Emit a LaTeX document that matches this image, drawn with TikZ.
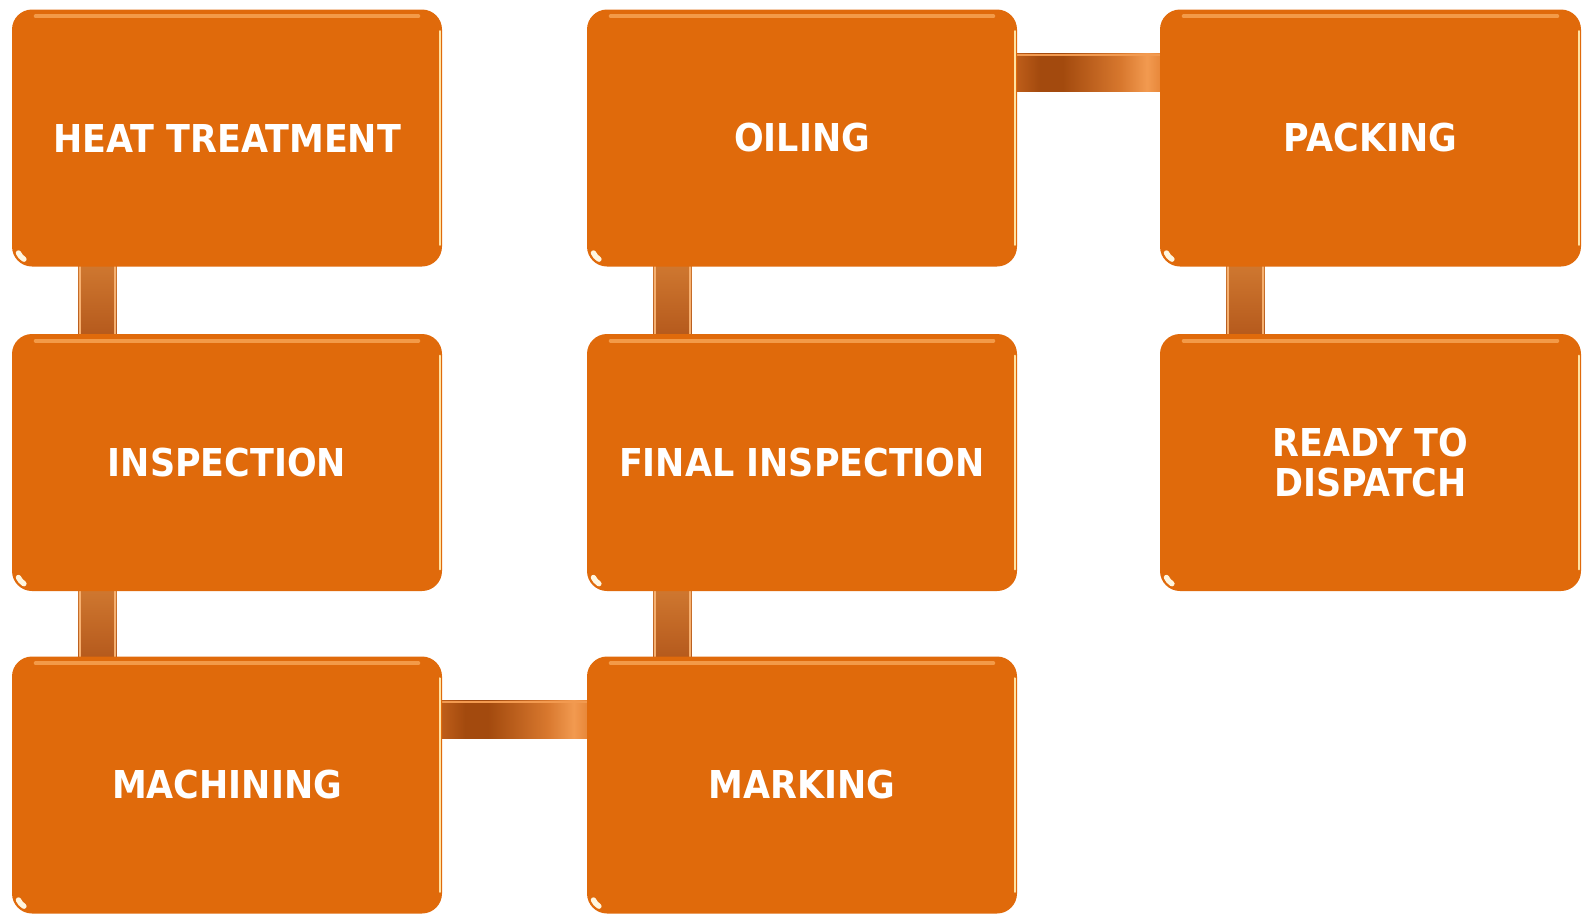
\documentclass[tikz,border=0pt]{standalone}
\usepackage{fontspec}
\newfontfamily\boxfont[FakeStretch=0.91]{DejaVu Sans}
\usetikzlibrary{calc}
\pgfdeclarelayer{bg}
\pgfsetlayers{bg,main}
\definecolor{boxor}{HTML}{E06A0B}
\definecolor{boxhi}{HTML}{F39A48}
\definecolor{boxrim}{HTML}{FFE2A2}
\definecolor{boxgl}{HTML}{FFF6E0}
\definecolor{barA}{HTML}{C8651E}
\definecolor{barD}{HTML}{A34A0E}
\definecolor{barM}{HTML}{D8782E}
\definecolor{barL}{HTML}{F29A50}
\definecolor{barE}{HTML}{E07A2A}
\definecolor{vbarT}{HTML}{D27B32}
\definecolor{vbarB}{HTML}{B2561A}
\definecolor{vbarE}{HTML}{F6B070}
\pgfdeclarehorizontalshading{hbar}{100bp}{color(0bp)=(barA); color(25bp)=(barA); color(35bp)=(barD); color(42bp)=(barD); color(60bp)=(barM); color(68bp)=(barL); color(75bp)=(barE); color(100bp)=(barE)}
\tikzset{
  stage/.style={rectangle, rounded corners=15pt, fill=boxor, inner sep=0pt,
    minimum width=322.5pt, minimum height=192.75pt, text=white, align=center,
    font=\boxfont\bfseries\fontsize{28.8pt}{29.3pt}\selectfont},
  stagec/.style={stage, minimum width=315.75pt},
  hlink/.style={shading=hbar},
  vlink/.style={top color=vbarT, bottom color=vbarB},
  linkedge/.style={line width=1.2pt, draw=vbarE},
  tophi/.style={line width=3pt, draw=boxhi, line cap=round},
  rimhi/.style={line width=1.5pt, draw=boxrim, line cap=round},
  cornerhi/.style={line width=4pt, draw=boxgl, line cap=round}
}
\newcommand{\glossbox}[1]{%
  \draw[tophi] ($(#1.north west)+(24,7)$) -- ($(#1.north east)+(-24,7)$);
  \draw[rimhi] ($(#1.north east)+(-2.5,22)$) -- ($(#1.south east)+(-2.5,-22)$);
  \draw[cornerhi] ($(#1.south west)+(15pt,15pt)+(205:11pt)$) arc[start angle=205, end angle=238, radius=11pt];
}
\begin{document}
\begin{tikzpicture}[x=0.75pt, y=-0.75pt]
\useasboundingbox (0,0) rectangle (1582,915);
\node[stage] (ht)   at (227,138)   {HEAT TREATMENT};
\node[stage] (insp) at (227,462.5) {INSPECTION};
\node[stage] (mach) at (227,785)   {MACHINING};
\node[stage] (oil)  at (802,138)   {OILING};
\node[stage] (fin)  at (802,462.5) {FINAL INSPECTION};
\node[stage] (mark) at (802,785)   {MARKING};
\node[stagec] (pack)  at (1370.5,138)   {PACKING};
\node[stagec] (ready) at (1370.5,462.5) {READY TO\\DISPATCH};
\begin{pgfonlayer}{bg}
  % vertical links
  \foreach \a/\b in {ht/insp, insp/mach, oil/fin, fin/mark, pack/ready}{
    \path[vlink] ($(\a.south west)+(67,-10)$) rectangle ($(\b.north west)+(105,10)$);
    \draw[linkedge] ($(\a.south west)+(68,-10)$) -- ($(\b.north west)+(68,10)$);
    \draw[linkedge] ($(\a.south west)+(103,-10)$) -- ($(\b.north west)+(103,10)$);
  }
  % horizontal links
  \foreach \a/\b in {mach/mark, oil/pack}{
    \path[hlink] ($(\a.north east)+(-10,44)$) rectangle ($(\b.north west)+(10,82)$);
    \draw[line width=1.8pt, draw=barL] ($(\a.north east)+(-10,45.5)$) -- ($(\b.north west)+(10,45.5)$);
  }
\end{pgfonlayer}
\foreach \n in {ht,insp,mach,oil,fin,mark,pack,ready}{\glossbox{\n}}
\end{tikzpicture}
\end{document}
